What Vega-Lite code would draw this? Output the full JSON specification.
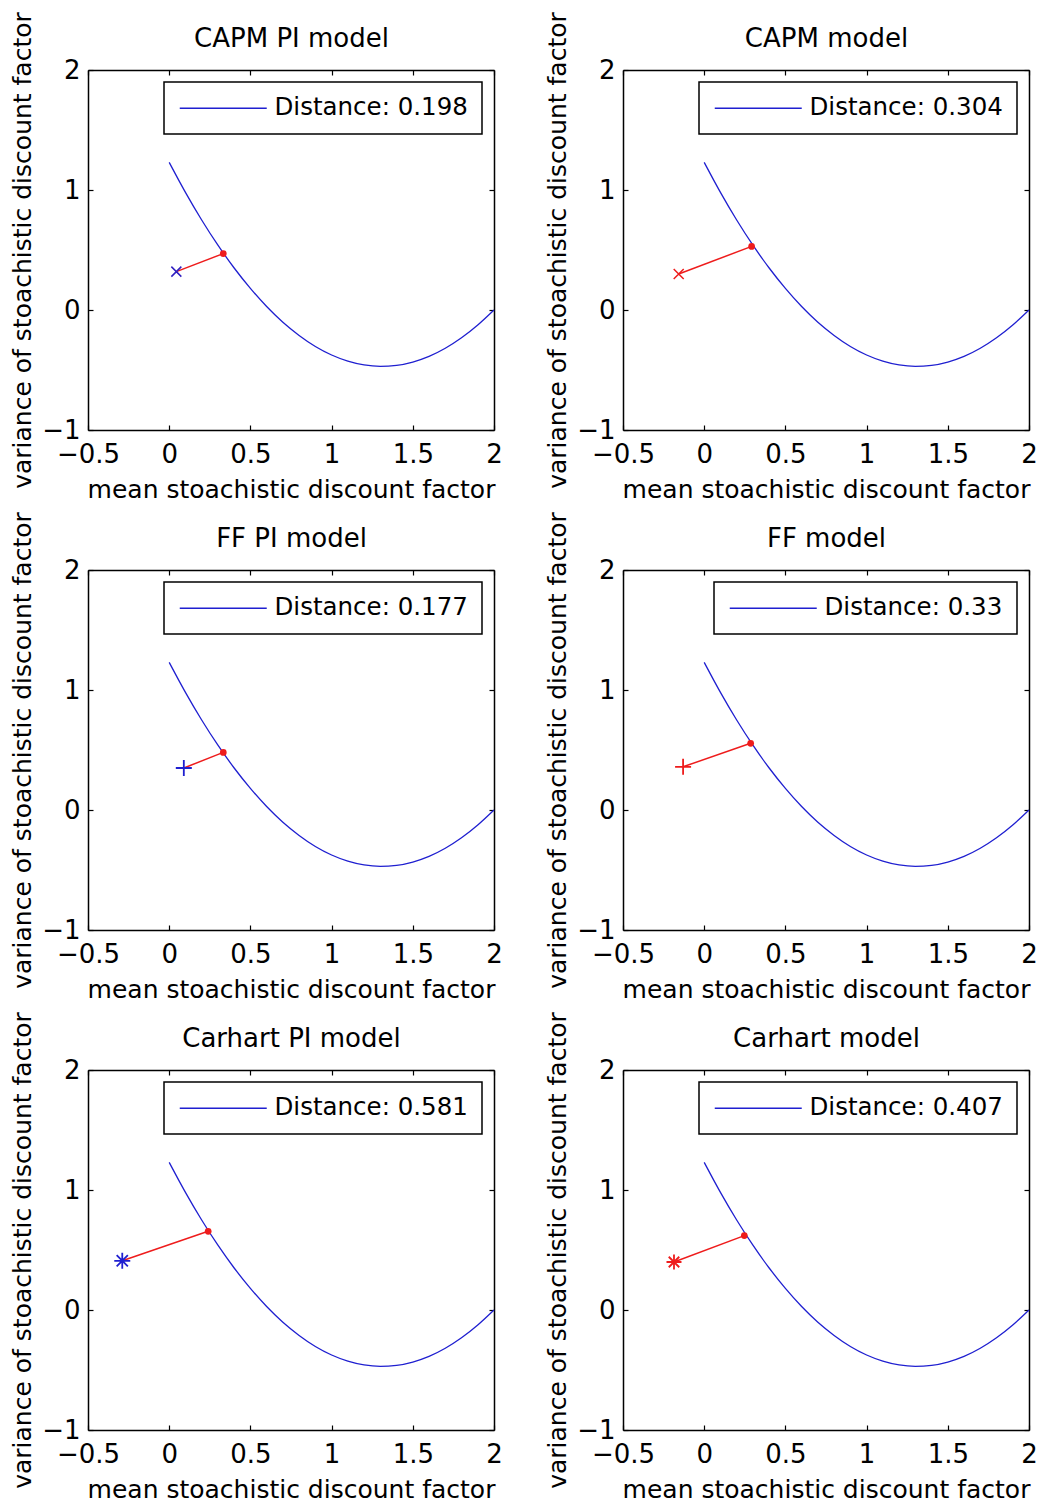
{
  "$schema": "https://vega.github.io/schema/vega-lite/v6.json",
  "background": "white",
  "padding": {"left": 10, "top": 11, "right": 5, "bottom": 5},
  "datasets": {
    "curve": [
      {"x": 0.0, "y": 1.23}, {"x": 0.1, "y": 0.98}, {"x": 0.2, "y": 0.75}, {"x": 0.3, "y": 0.54},
      {"x": 0.4, "y": 0.35}, {"x": 0.5, "y": 0.18}, {"x": 0.6, "y": 0.029}, {"x": 0.7, "y": -0.102},
      {"x": 0.8, "y": -0.212}, {"x": 0.9, "y": -0.304}, {"x": 1.0, "y": -0.375}, {"x": 1.1, "y": -0.426},
      {"x": 1.2, "y": -0.458}, {"x": 1.3, "y": -0.47}, {"x": 1.4, "y": -0.462}, {"x": 1.5, "y": -0.434},
      {"x": 1.6, "y": -0.387}, {"x": 1.7, "y": -0.319}, {"x": 1.8, "y": -0.232}, {"x": 1.9, "y": -0.125},
      {"x": 2.0, "y": 0.0}
    ]
  },
  "columns": 2,
  "spacing": {"row": 140, "column": 129},
  "bounds": "flush",
  "resolve": {"scale": {"color": "independent"}},
  "concat": [
    {
      "width": 406, "height": 360,
      "resolve": {"axis": {"x": "independent", "y": "independent"}},
      "layer": [
        {"data": {"name": "curve"}, "mark": {"type": "line", "strokeWidth": 1.3, "interpolate": "monotone"},
         "encoding": {
           "x": {"field": "x", "type": "quantitative", "scale": {"domain": [-0.5, 2], "nice": false, "zero": false}, "axis": {"orient": "bottom", "values": [-0.5, 0, 0.5, 1, 1.5, 2], "format": "~g", "title": "mean stoachistic discount factor"}},
           "y": {"field": "y", "type": "quantitative", "scale": {"domain": [-1, 2], "nice": false, "zero": false}, "axis": {"orient": "left", "values": [-1, 0, 1, 2], "format": "~g", "title": "variance of stoachistic discount factor"}},
           "color": {"datum": "Distance: 0.198", "type": "nominal", "scale": {"range": ["#1f1fd0"]}, "legend": {"title": null}}}},
        {"data": {"values": [{"kind": "model", "x": 0.044, "y": 0.32}, {"kind": "bound", "x": 0.333, "y": 0.47}]},
         "mark": {"type": "line", "color": "#ee1c1c", "strokeWidth": 1.5},
         "encoding": {
           "x": {"field": "x", "type": "quantitative", "axis": {"orient": "top", "values": [-0.5, 0, 0.5, 1, 1.5, 2], "labels": false, "title": "CAPM PI model", "titleFontSize": 26, "titlePadding": 18}},
           "y": {"field": "y", "type": "quantitative", "axis": {"orient": "right", "values": [-1, 0, 1, 2], "labels": false, "title": null}}}},
        {"data": {"values": [{"kind": "model", "x": 0.044, "y": 0.32}, {"kind": "bound", "x": 0.333, "y": 0.47}]},
         "transform": [{"filter": "datum.kind == 'bound'"}],
         "mark": {"type": "point", "shape": "circle", "filled": true, "color": "#ee1c1c", "size": 45, "opacity": 1},
         "encoding": {"x": {"field": "x", "type": "quantitative", "axis": null}, "y": {"field": "y", "type": "quantitative", "axis": null}}},
        {"data": {"values": [{"kind": "model", "x": 0.044, "y": 0.32}, {"kind": "bound", "x": 0.333, "y": 0.47}]},
         "transform": [{"filter": "datum.kind == 'model'"}],
         "mark": {"type": "point", "shape": "M-1,-1L1,1M-1,1L1,-1", "filled": false, "color": "#3020c0", "size": 100, "strokeWidth": 1.5, "opacity": 1},
         "encoding": {"x": {"field": "x", "type": "quantitative", "axis": null}, "y": {"field": "y", "type": "quantitative", "axis": null}}}
      ]
    },
    {
      "width": 406, "height": 360,
      "resolve": {"axis": {"x": "independent", "y": "independent"}},
      "layer": [
        {"data": {"name": "curve"}, "mark": {"type": "line", "strokeWidth": 1.3, "interpolate": "monotone"},
         "encoding": {
           "x": {"field": "x", "type": "quantitative", "scale": {"domain": [-0.5, 2], "nice": false, "zero": false}, "axis": {"orient": "bottom", "values": [-0.5, 0, 0.5, 1, 1.5, 2], "format": "~g", "title": "mean stoachistic discount factor"}},
           "y": {"field": "y", "type": "quantitative", "scale": {"domain": [-1, 2], "nice": false, "zero": false}, "axis": {"orient": "left", "values": [-1, 0, 1, 2], "format": "~g", "title": "variance of stoachistic discount factor"}},
           "color": {"datum": "Distance: 0.304", "type": "nominal", "scale": {"range": ["#1f1fd0"]}, "legend": {"title": null}}}},
        {"data": {"values": [{"kind": "model", "x": -0.157, "y": 0.3}, {"kind": "bound", "x": 0.292, "y": 0.53}]},
         "mark": {"type": "line", "color": "#ee1c1c", "strokeWidth": 1.5},
         "encoding": {
           "x": {"field": "x", "type": "quantitative", "axis": {"orient": "top", "values": [-0.5, 0, 0.5, 1, 1.5, 2], "labels": false, "title": "CAPM model", "titleFontSize": 26, "titlePadding": 18}},
           "y": {"field": "y", "type": "quantitative", "axis": {"orient": "right", "values": [-1, 0, 1, 2], "labels": false, "title": null}}}},
        {"data": {"values": [{"kind": "model", "x": -0.157, "y": 0.3}, {"kind": "bound", "x": 0.292, "y": 0.53}]},
         "transform": [{"filter": "datum.kind == 'bound'"}],
         "mark": {"type": "point", "shape": "circle", "filled": true, "color": "#ee1c1c", "size": 45, "opacity": 1},
         "encoding": {"x": {"field": "x", "type": "quantitative", "axis": null}, "y": {"field": "y", "type": "quantitative", "axis": null}}},
        {"data": {"values": [{"kind": "model", "x": -0.157, "y": 0.3}, {"kind": "bound", "x": 0.292, "y": 0.53}]},
         "transform": [{"filter": "datum.kind == 'model'"}],
         "mark": {"type": "point", "shape": "M-1,-1L1,1M-1,1L1,-1", "filled": false, "color": "#ee1c1c", "size": 100, "strokeWidth": 1.5, "opacity": 1},
         "encoding": {"x": {"field": "x", "type": "quantitative", "axis": null}, "y": {"field": "y", "type": "quantitative", "axis": null}}}
      ]
    },
    {
      "width": 406, "height": 360,
      "resolve": {"axis": {"x": "independent", "y": "independent"}},
      "layer": [
        {"data": {"name": "curve"}, "mark": {"type": "line", "strokeWidth": 1.3, "interpolate": "monotone"},
         "encoding": {
           "x": {"field": "x", "type": "quantitative", "scale": {"domain": [-0.5, 2], "nice": false, "zero": false}, "axis": {"orient": "bottom", "values": [-0.5, 0, 0.5, 1, 1.5, 2], "format": "~g", "title": "mean stoachistic discount factor"}},
           "y": {"field": "y", "type": "quantitative", "scale": {"domain": [-1, 2], "nice": false, "zero": false}, "axis": {"orient": "left", "values": [-1, 0, 1, 2], "format": "~g", "title": "variance of stoachistic discount factor"}},
           "color": {"datum": "Distance: 0.177", "type": "nominal", "scale": {"range": ["#1f1fd0"]}, "legend": {"title": null}}}},
        {"data": {"values": [{"kind": "model", "x": 0.09, "y": 0.35}, {"kind": "bound", "x": 0.333, "y": 0.48}]},
         "mark": {"type": "line", "color": "#ee1c1c", "strokeWidth": 1.5},
         "encoding": {
           "x": {"field": "x", "type": "quantitative", "axis": {"orient": "top", "values": [-0.5, 0, 0.5, 1, 1.5, 2], "labels": false, "title": "FF PI model", "titleFontSize": 26, "titlePadding": 18}},
           "y": {"field": "y", "type": "quantitative", "axis": {"orient": "right", "values": [-1, 0, 1, 2], "labels": false, "title": null}}}},
        {"data": {"values": [{"kind": "model", "x": 0.09, "y": 0.35}, {"kind": "bound", "x": 0.333, "y": 0.48}]},
         "transform": [{"filter": "datum.kind == 'bound'"}],
         "mark": {"type": "point", "shape": "circle", "filled": true, "color": "#ee1c1c", "size": 45, "opacity": 1},
         "encoding": {"x": {"field": "x", "type": "quantitative", "axis": null}, "y": {"field": "y", "type": "quantitative", "axis": null}}},
        {"data": {"values": [{"kind": "model", "x": 0.09, "y": 0.35}, {"kind": "bound", "x": 0.333, "y": 0.48}]},
         "transform": [{"filter": "datum.kind == 'model'"}],
         "mark": {"type": "point", "shape": "M-1,0L1,0M0,-1L0,1", "filled": false, "color": "#1f1fd0", "size": 256, "strokeWidth": 1.8, "opacity": 1},
         "encoding": {"x": {"field": "x", "type": "quantitative", "axis": null}, "y": {"field": "y", "type": "quantitative", "axis": null}}}
      ]
    },
    {
      "width": 406, "height": 360,
      "resolve": {"axis": {"x": "independent", "y": "independent"}},
      "layer": [
        {"data": {"name": "curve"}, "mark": {"type": "line", "strokeWidth": 1.3, "interpolate": "monotone"},
         "encoding": {
           "x": {"field": "x", "type": "quantitative", "scale": {"domain": [-0.5, 2], "nice": false, "zero": false}, "axis": {"orient": "bottom", "values": [-0.5, 0, 0.5, 1, 1.5, 2], "format": "~g", "title": "mean stoachistic discount factor"}},
           "y": {"field": "y", "type": "quantitative", "scale": {"domain": [-1, 2], "nice": false, "zero": false}, "axis": {"orient": "left", "values": [-1, 0, 1, 2], "format": "~g", "title": "variance of stoachistic discount factor"}},
           "color": {"datum": "Distance: 0.33", "type": "nominal", "scale": {"range": ["#1f1fd0"]}, "legend": {"title": null}}}},
        {"data": {"values": [{"kind": "model", "x": -0.13, "y": 0.36}, {"kind": "bound", "x": 0.286, "y": 0.556}]},
         "mark": {"type": "line", "color": "#ee1c1c", "strokeWidth": 1.5},
         "encoding": {
           "x": {"field": "x", "type": "quantitative", "axis": {"orient": "top", "values": [-0.5, 0, 0.5, 1, 1.5, 2], "labels": false, "title": "FF model", "titleFontSize": 26, "titlePadding": 18}},
           "y": {"field": "y", "type": "quantitative", "axis": {"orient": "right", "values": [-1, 0, 1, 2], "labels": false, "title": null}}}},
        {"data": {"values": [{"kind": "model", "x": -0.13, "y": 0.36}, {"kind": "bound", "x": 0.286, "y": 0.556}]},
         "transform": [{"filter": "datum.kind == 'bound'"}],
         "mark": {"type": "point", "shape": "circle", "filled": true, "color": "#ee1c1c", "size": 45, "opacity": 1},
         "encoding": {"x": {"field": "x", "type": "quantitative", "axis": null}, "y": {"field": "y", "type": "quantitative", "axis": null}}},
        {"data": {"values": [{"kind": "model", "x": -0.13, "y": 0.36}, {"kind": "bound", "x": 0.286, "y": 0.556}]},
         "transform": [{"filter": "datum.kind == 'model'"}],
         "mark": {"type": "point", "shape": "M-1,0L1,0M0,-1L0,1", "filled": false, "color": "#ee1c1c", "size": 256, "strokeWidth": 1.8, "opacity": 1},
         "encoding": {"x": {"field": "x", "type": "quantitative", "axis": null}, "y": {"field": "y", "type": "quantitative", "axis": null}}}
      ]
    },
    {
      "width": 406, "height": 360,
      "resolve": {"axis": {"x": "independent", "y": "independent"}},
      "layer": [
        {"data": {"name": "curve"}, "mark": {"type": "line", "strokeWidth": 1.3, "interpolate": "monotone"},
         "encoding": {
           "x": {"field": "x", "type": "quantitative", "scale": {"domain": [-0.5, 2], "nice": false, "zero": false}, "axis": {"orient": "bottom", "values": [-0.5, 0, 0.5, 1, 1.5, 2], "format": "~g", "title": "mean stoachistic discount factor"}},
           "y": {"field": "y", "type": "quantitative", "scale": {"domain": [-1, 2], "nice": false, "zero": false}, "axis": {"orient": "left", "values": [-1, 0, 1, 2], "format": "~g", "title": "variance of stoachistic discount factor"}},
           "color": {"datum": "Distance: 0.581", "type": "nominal", "scale": {"range": ["#1f1fd0"]}, "legend": {"title": null}}}},
        {"data": {"values": [{"kind": "model", "x": -0.289, "y": 0.41}, {"kind": "bound", "x": 0.24, "y": 0.656}]},
         "mark": {"type": "line", "color": "#ee1c1c", "strokeWidth": 1.5},
         "encoding": {
           "x": {"field": "x", "type": "quantitative", "axis": {"orient": "top", "values": [-0.5, 0, 0.5, 1, 1.5, 2], "labels": false, "title": "Carhart PI model", "titleFontSize": 26, "titlePadding": 18}},
           "y": {"field": "y", "type": "quantitative", "axis": {"orient": "right", "values": [-1, 0, 1, 2], "labels": false, "title": null}}}},
        {"data": {"values": [{"kind": "model", "x": -0.289, "y": 0.41}, {"kind": "bound", "x": 0.24, "y": 0.656}]},
         "transform": [{"filter": "datum.kind == 'bound'"}],
         "mark": {"type": "point", "shape": "circle", "filled": true, "color": "#ee1c1c", "size": 45, "opacity": 1},
         "encoding": {"x": {"field": "x", "type": "quantitative", "axis": null}, "y": {"field": "y", "type": "quantitative", "axis": null}}},
        {"data": {"values": [{"kind": "model", "x": -0.289, "y": 0.41}, {"kind": "bound", "x": 0.24, "y": 0.656}]},
         "transform": [{"filter": "datum.kind == 'model'"}],
         "mark": {"type": "point", "shape": "M-1,0L1,0M0,-1L0,1M-0.7,-0.7L0.7,0.7M-0.7,0.7L0.7,-0.7", "filled": false, "color": "#1f1fd0", "size": 256, "strokeWidth": 1.8, "opacity": 1},
         "encoding": {"x": {"field": "x", "type": "quantitative", "axis": null}, "y": {"field": "y", "type": "quantitative", "axis": null}}}
      ]
    },
    {
      "width": 406, "height": 360,
      "resolve": {"axis": {"x": "independent", "y": "independent"}},
      "layer": [
        {"data": {"name": "curve"}, "mark": {"type": "line", "strokeWidth": 1.3, "interpolate": "monotone"},
         "encoding": {
           "x": {"field": "x", "type": "quantitative", "scale": {"domain": [-0.5, 2], "nice": false, "zero": false}, "axis": {"orient": "bottom", "values": [-0.5, 0, 0.5, 1, 1.5, 2], "format": "~g", "title": "mean stoachistic discount factor"}},
           "y": {"field": "y", "type": "quantitative", "scale": {"domain": [-1, 2], "nice": false, "zero": false}, "axis": {"orient": "left", "values": [-1, 0, 1, 2], "format": "~g", "title": "variance of stoachistic discount factor"}},
           "color": {"datum": "Distance: 0.407", "type": "nominal", "scale": {"range": ["#1f1fd0"]}, "legend": {"title": null}}}},
        {"data": {"values": [{"kind": "model", "x": -0.186, "y": 0.4}, {"kind": "bound", "x": 0.247, "y": 0.62}]},
         "mark": {"type": "line", "color": "#ee1c1c", "strokeWidth": 1.5},
         "encoding": {
           "x": {"field": "x", "type": "quantitative", "axis": {"orient": "top", "values": [-0.5, 0, 0.5, 1, 1.5, 2], "labels": false, "title": "Carhart model", "titleFontSize": 26, "titlePadding": 18}},
           "y": {"field": "y", "type": "quantitative", "axis": {"orient": "right", "values": [-1, 0, 1, 2], "labels": false, "title": null}}}},
        {"data": {"values": [{"kind": "model", "x": -0.186, "y": 0.4}, {"kind": "bound", "x": 0.247, "y": 0.62}]},
         "transform": [{"filter": "datum.kind == 'bound'"}],
         "mark": {"type": "point", "shape": "circle", "filled": true, "color": "#ee1c1c", "size": 45, "opacity": 1},
         "encoding": {"x": {"field": "x", "type": "quantitative", "axis": null}, "y": {"field": "y", "type": "quantitative", "axis": null}}},
        {"data": {"values": [{"kind": "model", "x": -0.186, "y": 0.4}, {"kind": "bound", "x": 0.247, "y": 0.62}]},
         "transform": [{"filter": "datum.kind == 'model'"}],
         "mark": {"type": "point", "shape": "M-1,0L1,0M0,-1L0,1M-0.7,-0.7L0.7,0.7M-0.7,0.7L0.7,-0.7", "filled": false, "color": "#ee1c1c", "size": 225, "strokeWidth": 1.8, "opacity": 1},
         "encoding": {"x": {"field": "x", "type": "quantitative", "axis": null}, "y": {"field": "y", "type": "quantitative", "axis": null}}}
      ]
    }
  ],
  "config": {
    "font": "DejaVu Sans",
    "view": {"stroke": null},
    "axis": {
      "domainColor": "black", "domainWidth": 1.5,
      "tickColor": "black", "tickSize": -5, "tickWidth": 1.2,
      "grid": false,
      "labelFont": "DejaVu Sans", "labelFontSize": 26, "labelColor": "black",
      "labelFlush": false, "labelOverlap": false,
      "titleFont": "DejaVu Sans", "titleFontSize": 25, "titleFontWeight": "normal", "titleColor": "black"
    },
    "axisX": {"labelPadding": 16, "titlePadding": 10},
    "axisY": {"labelPadding": 13, "titlePadding": 6},
    "legend": {
      "orient": "top-right", "offset": 12,
      "strokeColor": "black", "strokeWidth": 1.5, "fillColor": "white", "padding": 14,
      "symbolType": "M-4,0L4,0", "symbolSize": 473, "symbolStrokeWidth": 1.5, "symbolOffset": 33,
      "labelFont": "DejaVu Sans", "labelFontSize": 24.5, "labelColor": "black", "labelOffset": 39, "labelLimit": 400
    }
  }
}
